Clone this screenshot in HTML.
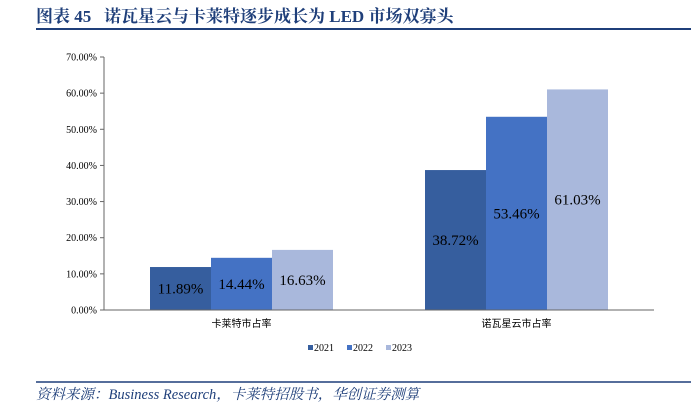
<!DOCTYPE html>
<html><head><meta charset="utf-8"><style>
body{margin:0;background:#fff;width:691px;height:404px;overflow:hidden;font-family:"Liberation Serif","Noto Serif CJK SC",serif}
</style></head><body>
<svg width="691" height="404">
<text x="36" y="22" font-size="17" font-weight="bold" fill="#1F3F7A" style="white-space:pre" font-family="Liberation Serif,'Noto Serif CJK SC',serif">图表 45   诺瓦星云与卡莱特逐步成长为 LED 市场双寡头</text>
<line x1="36" y1="29" x2="691" y2="29" stroke="#1F3F7A" stroke-width="2"/>
<g id="plot"></g>
<g font-size="10" fill="#000">
<rect x="308" y="345" width="5" height="5" fill="#365E9E"/>
<text x="314" y="351">2021</text>
<rect x="347" y="345" width="5" height="5" fill="#4472C4"/>
<text x="353" y="351">2022</text>
<rect x="386" y="345" width="5" height="5" fill="#A9B8DC"/>
<text x="392" y="351">2023</text>
</g>
<line x1="36" y1="382" x2="691" y2="382" stroke="#1F3F7A" stroke-width="1.5"/>
<text x="36" y="399" font-size="14.5" font-style="italic" fill="#1F3F7A">资料来源：Business Research，卡莱特招股书，华创证券测算</text>
</svg>
<script>
const categories=["卡莱特市占率","诺瓦星云市占率"];
const series2021=[11.89,38.72];
const series2022=[14.44,53.46];
const series2023=[16.63,61.03];
const yTicks=[0,10,20,30,40,50,60,70];
const colors=["#365E9E","#4472C4","#A9B8DC"];
const NS="http://www.w3.org/2000/svg";
const g=document.getElementById('plot');
const x0=104,x1=654,yb=310,yt=57;
const y=v=>yb-(v/70)*(yb-yt);
const catW=(x1-x0)/categories.length;
const bw=61;
function el(t,a){const e=document.createElementNS(NS,t);for(const k in a)e.setAttribute(k,a[k]);g.appendChild(e);return e;}
yTicks.forEach(t=>{
 const tl=el('line',{x1:x0-4,x2:x0,y1:y(t),y2:y(t),stroke:'#666'});
 
 
 const tx=el('text',{x:x0-7,y:y(t)+3.5,'font-size':10,'text-anchor':'end'});
 tx.textContent=t.toFixed(2)+'%';
 
 
});
const all=[series2021,series2022,series2023];
categories.forEach((c,i)=>{
 const cx=x0+catW*(i+0.5);
 all.forEach((s,j)=>{
  const bx=cx-1.5*bw+j*bw;
  const r=el('rect',{x:bx,y:y(s[i]),width:bw,height:yb-y(s[i]),fill:colors[j]});
  
  
  const lt=el('text',{x:bx+bw/2,y:y(s[i]/2)+5,'font-size':15,'text-anchor':'middle',fill:'#000'});
  lt.textContent=s[i].toFixed(2)+'%';
  
  
 });
 const ct=el('text',{x:cx,y:yb+17,'font-size':10,'text-anchor':'middle','font-family':"'Noto Sans CJK SC',sans-serif"});
 ct.textContent=c;
 
 
});
const ya=el('line',{x1:x0,x2:x0,y1:yt,y2:yb,stroke:'#666'});


const xa=el('line',{x1:x0,x2:x1,y1:yb,y2:yb,stroke:'#666'});


</script>
</body></html>
